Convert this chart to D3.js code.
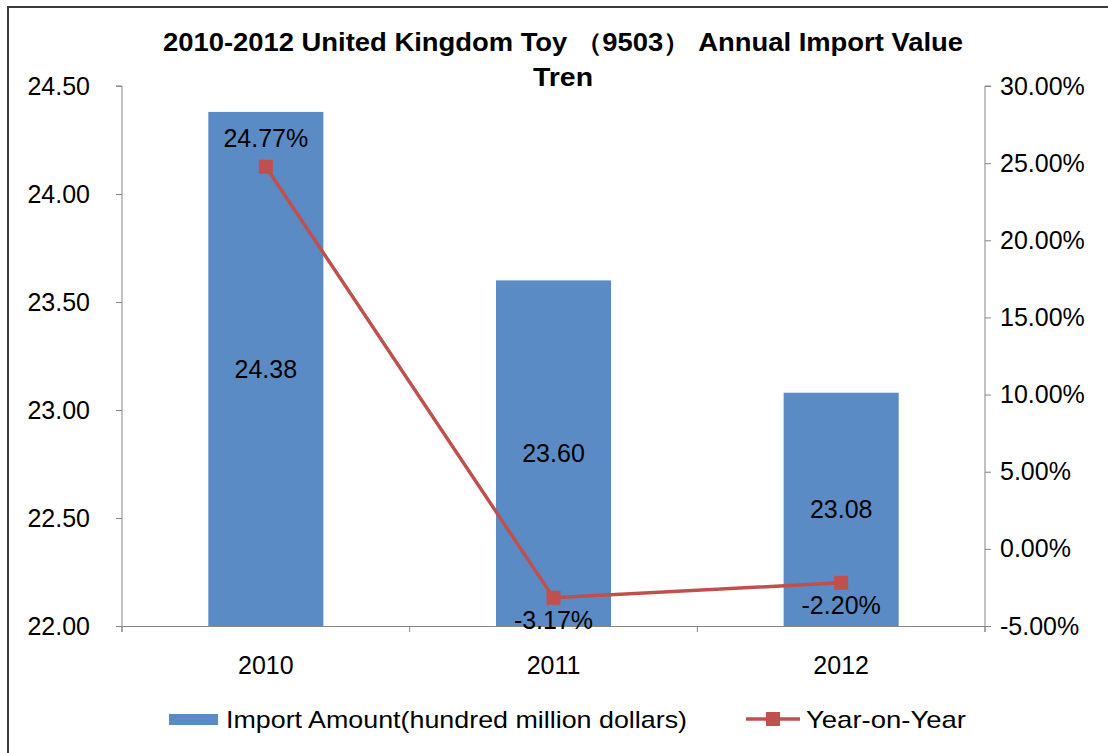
<!DOCTYPE html>
<html><head><meta charset="utf-8">
<script src="https://cdn.jsdelivr.net/npm/d3@7"></script>
<style>
body{margin:0;background:#fff;}
svg{display:block;font-family:"Liberation Sans",Arial,sans-serif;}
</style></head>
<body><svg id="c" width="1108" height="753"></svg>
<script>
const years = ["2010","2011","2012"];
const importAmount = [24.38, 23.60, 23.08];
const yoy = [24.77, -3.17, -2.20];
const leftTicks = [22.0, 22.5, 23.0, 23.5, 24.0, 24.5];
const rightTicks = [-5, 0, 5, 10, 15, 20, 25, 30];
const titleLines = ["2010-2012 United Kingdom Toy （9503） Annual Import Value", "Tren"];
const legendLabels = ["Import Amount(hundred million dollars)", "Year-on-Year"];

const svg = d3.select("#c");
const L = 122, R = 985, T = 86, B = 626;
const barColor = "#5B8BC5", lineColor = "#C0504D", axisColor = "#868686";
const f2 = v => d3.format(".2f")(v).replace("\u2212", "-");
const pct = v => f2(v) + "%";

// frame
svg.append("path").attr("d", "M8,753 L8,7 L1108,7").attr("fill","none").attr("stroke","#3a3a3a").attr("stroke-width",2);

const x = d3.scaleBand().domain(years).range([L, R]).paddingInner(0.6).paddingOuter(0.3);
const y = d3.scaleLinear().domain([22, 24.5]).range([B, T]);
const y2 = d3.scaleLinear().domain([-5, 30]).range([B, T]);

// bars
svg.selectAll("rect.bar").data(importAmount).join("rect").attr("class","bar")
  .attr("x",(d,i)=>x(years[i])).attr("width",x.bandwidth())
  .attr("y",d=>y(d)).attr("height",d=>B-y(d)).attr("fill",barColor);

// axes
const ax = d3.axisLeft(y).tickValues(leftTicks).tickFormat(f2).tickSize(6).tickPadding(26);
const gL = svg.append("g").attr("transform",`translate(${L},0)`).call(ax);
const ar = d3.axisRight(y2).tickValues(rightTicks).tickFormat(pct).tickSize(6).tickPadding(9);
const gR = svg.append("g").attr("transform",`translate(${R},0)`).call(ar);
const ab = d3.axisBottom(x).tickSize(0).tickPadding(30);
const gB = svg.append("g").attr("transform",`translate(0,${B})`).call(ab);
[gL,gR,gB].forEach(g=>{
  g.select(".domain").attr("stroke",axisColor);
  g.selectAll(".tick line").attr("stroke",axisColor);
  g.selectAll("text").attr("font-size",25).attr("fill","#000").attr("font-family","Liberation Sans, Arial, sans-serif");
});
gL.select(".domain").attr("d",`M-6,${T}H0V${B+6}`);
gR.select(".domain").attr("d",`M6,${T}H0V${B+6}`);
// category boundary ticks
const bounds = [L, ...years.slice(1).map(c=>x(c)-x.step()*0.3), R];
svg.append("g").selectAll("line").data(bounds).join("line")
  .attr("x1",d=>d).attr("x2",d=>d).attr("y1",B).attr("y2",B+6).attr("stroke",axisColor);

// bar labels
svg.selectAll("text.bl").data(importAmount).join("text").attr("class","bl")
  .attr("x",(d,i)=>x(years[i])+x.bandwidth()/2).attr("y",d=>(y(d)+B)/2)
  .attr("dy","0.35em").attr("text-anchor","middle").attr("font-size",25).text(f2);

// line
const cx = i => x(years[i]) + x.bandwidth()/2;
svg.append("path").datum(yoy)
  .attr("d", d3.line().x((d,i)=>cx(i)).y(d=>y2(d)))
  .attr("fill","none").attr("stroke",lineColor).attr("stroke-width",3.5);
svg.selectAll("rect.mk").data(yoy).join("rect").attr("class","mk")
  .attr("x",(d,i)=>cx(i)-7).attr("y",d=>y2(d)-7).attr("width",14).attr("height",14).attr("fill",lineColor);
const yoyOffset = [-28, 22, 22];
svg.selectAll("text.ll").data(yoy).join("text").attr("class","ll")
  .attr("x",(d,i)=>cx(i)).attr("y",(d,i)=>y2(d)+yoyOffset[i])
  .attr("dy","0.35em").attr("text-anchor","middle").attr("font-size",25).text(pct);

// title
svg.append("text").attr("x",563).attr("y",51).attr("text-anchor","middle").attr("font-size",25).attr("font-weight","bold")
  .attr("textLength",800).attr("lengthAdjust","spacingAndGlyphs").text(titleLines[0]);
svg.append("text").attr("x",563).attr("y",86).attr("text-anchor","middle").attr("font-size",25).attr("font-weight","bold")
  .attr("textLength",60).attr("lengthAdjust","spacingAndGlyphs").text(titleLines[1]);

// legend
const lg = svg.append("g");
lg.append("rect").attr("x",169).attr("y",714).attr("width",49).attr("height",11).attr("fill",barColor);
lg.append("text").attr("x",226).attr("y",728).attr("font-size",24).attr("textLength",461).attr("lengthAdjust","spacingAndGlyphs").text(legendLabels[0]);
lg.append("line").attr("x1",746).attr("x2",800).attr("y1",719).attr("y2",719).attr("stroke",lineColor).attr("stroke-width",3.5);
lg.append("rect").attr("x",766).attr("y",712).attr("width",14).attr("height",14).attr("fill",lineColor);
lg.append("text").attr("x",806).attr("y",728).attr("font-size",24).attr("textLength",160).attr("lengthAdjust","spacingAndGlyphs").text(legendLabels[1]);
</script></body></html>
